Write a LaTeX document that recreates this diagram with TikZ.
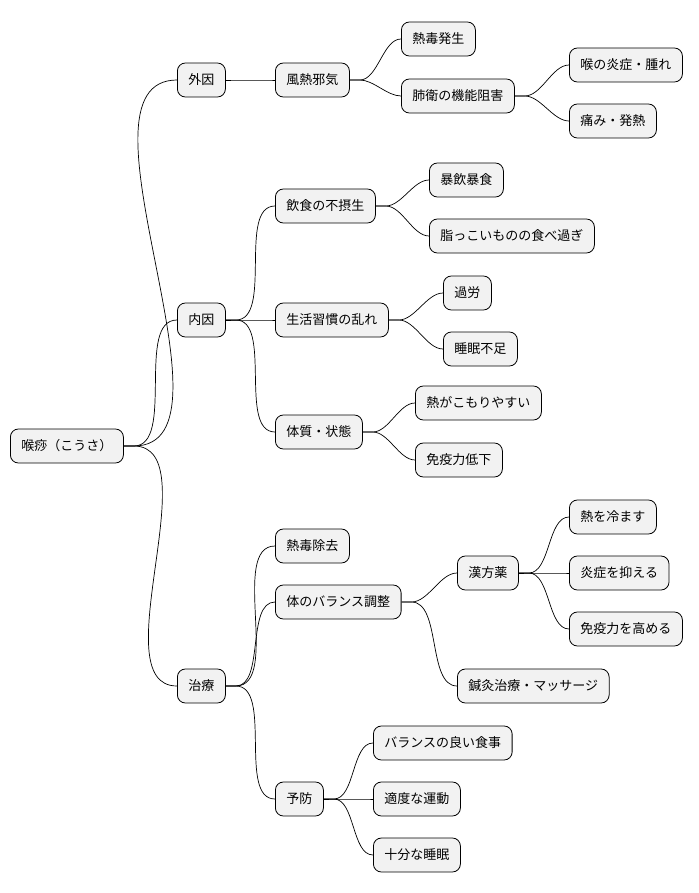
\documentclass[tikz,border=0pt]{standalone}
\usepackage{fontspec}
\newfontfamily\jpfont{Noto Sans CJK JP}
\usetikzlibrary{positioning}

\begin{document}
\begin{tikzpicture}[x=1pt, y=-1pt,
    topic/.style={draw, rounded corners=8pt, fill=gray!10, anchor=west, minimum height=34pt,
      inner xsep=11pt, font=\jpfont\fontsize{13}{15}\selectfont, line width=0.8pt},
    link/.style={line width=0.7pt}]
  \useasboundingbox (0,0) rectangle (698,893);

  % root and first level
  \node[topic] (root) at (10,446) {喉痧（こうさ）};
  \node[topic] (gaiin) at (177,80) {外因};
  \node[topic] (naiin) at (177,320) {内因};
  \node[topic] (chiryo) at (177,686) {治療};

  % external cause
  \node[topic] (fune) at (275,80) {風熱邪気};
  \node[topic] (netsudoku) at (401,39) {熱毒発生};
  \node[topic] (haiei) at (401,96) {肺衛の機能阻害};
  \node[topic] (nodo) at (569,65) {喉の炎症・腫れ};
  \node[topic] (itami) at (569,121) {痛み・発熱};

  % internal cause
  \node[topic] (inshoku) at (275,206) {飲食の不摂生};
  \node[topic] (boin) at (429,180) {暴飲暴食};
  \node[topic] (abura) at (429,236) {脂っこいものの食べ過ぎ};
  \node[topic] (seikatsu) at (275,320) {生活習慣の乱れ};
  \node[topic] (karo) at (443,293) {過労};
  \node[topic] (suimin) at (443,349) {睡眠不足};
  \node[topic] (taishitsu) at (275,432) {体質・状態};
  \node[topic] (komori) at (415,403) {熱がこもりやすい};
  \node[topic] (meneki) at (415,460) {免疫力低下};

  % treatment
  \node[topic] (jokyo) at (275,546) {熱毒除去};
  \node[topic] (balance) at (275,602) {体のバランス調整};
  \node[topic] (kampo) at (457,573) {漢方薬};
  \node[topic] (hiyasu) at (569,517) {熱を冷ます};
  \node[topic] (osaeru) at (569,573) {炎症を抑える};
  \node[topic] (takameru) at (569,629) {免疫力を高める};
  \node[topic] (shinkyu) at (457,686) {鍼灸治療・マッサージ};
  \node[topic] (yobo) at (275,799) {予防};
  \node[topic] (shokuji) at (373,743) {バランスの良い食事};
  \node[topic] (undo) at (373,799) {適度な運動};
  \node[topic] (nemuri) at (373,855) {十分な睡眠};

  % connectors
  \foreach \p/\c in {root/gaiin, root/naiin, root/chiryo,
      gaiin/fune, fune/netsudoku, fune/haiei, haiei/nodo, haiei/itami,
      naiin/inshoku, naiin/seikatsu, naiin/taishitsu,
      inshoku/boin, inshoku/abura, seikatsu/karo, seikatsu/suimin,
      taishitsu/komori, taishitsu/meneki,
      chiryo/jokyo, chiryo/balance, chiryo/yobo,
      balance/kampo, balance/shinkyu,
      kampo/hiyasu, kampo/osaeru, kampo/takameru,
      yobo/shokuji, yobo/undo, yobo/nemuri}
    \draw[link] (\p.east) -- ++(10,0) to[out=0, in=180, looseness=0.8] (\c.west);
\end{tikzpicture}
\end{document}
